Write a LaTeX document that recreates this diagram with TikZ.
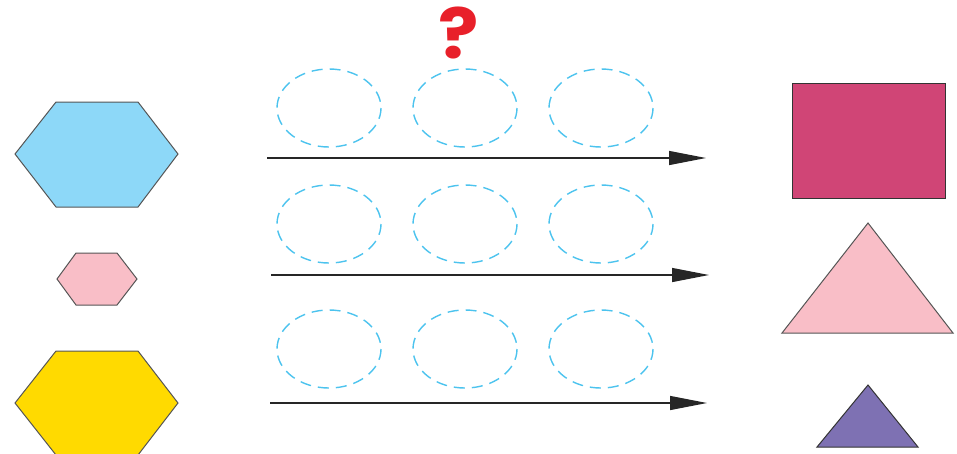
\documentclass[tikz,border=0pt]{standalone}
\usepackage{fontspec}
\newfontfamily\qfont{Poppins}
\usetikzlibrary{arrows.meta}
\definecolor{hexblue}{HTML}{8DD8F8}
\definecolor{hexpink}{HTML}{F9BEC7}
\definecolor{hexyellow}{HTML}{FFDA00}
\definecolor{rectred}{HTML}{D04576}
\definecolor{trpurple}{HTML}{7E71B3}
\definecolor{dashblue}{HTML}{4CC3EE}
\definecolor{qred}{HTML}{E8202A}
\definecolor{edge}{HTML}{555555}
\tikzset{
  shapeline/.style={draw=edge, line width=1pt, line join=miter},
  slot/.style={draw=dashblue, line width=1.4pt, dash pattern=on 11pt off 7pt},
  flow/.style={draw=black!85, line width=1.3pt, -{Triangle[length=37pt,width=14pt]}}
}
\begin{document}
\begin{tikzpicture}[x=1pt,y=-1pt]
\useasboundingbox (0,0) rectangle (957,453);
% left hexagons
\draw[shapeline, fill=hexblue] (15,154) -- (56,102) -- (138,102) -- (178,154) -- (138,207) -- (56,207) -- cycle;
\draw[shapeline, fill=hexpink] (57,279) -- (76,253) -- (117,253) -- (137,279) -- (117,305) -- (76,305) -- cycle;
\draw[shapeline, fill=hexyellow] (15,403) -- (56,351) -- (138,351) -- (178,403) -- (138,455) -- (56,455) -- cycle;
% right shapes
\draw[shapeline, draw=black!80, fill=rectred] (792,83) rectangle (945,198);
\draw[shapeline, fill=hexpink] (782,333) -- (868,223) -- (953,333) -- cycle;
\draw[shapeline, draw=black!80, fill=trpurple] (817,447) -- (868,385) -- (918,447) -- cycle;
% question mark
\node[scale=1.16, xscale=1.08] (q) at (459,33) {\qfont\bfseries\fontsize{60}{60}\selectfont\color{qred}?};
% dashed slots
\foreach \r/\y in {1/108, 2/224, 3/349}{
  \foreach \c/\x in {1/329, 2/465, 3/601}{
    \draw[slot] (\x,\y) ellipse [x radius=52, y radius=39];
  }
}
% arrows
\coordinate (a1s) at (267,158); \coordinate (a1e) at (706,158);
\coordinate (a2s) at (271,275); \coordinate (a2e) at (709,275);
\coordinate (a3s) at (270,403); \coordinate (a3e) at (707,403);
\draw[flow] (a1s) -- (a1e);
\draw[flow] (a2s) -- (a2e);
\draw[flow] (a3s) -- (a3e);
\end{tikzpicture}
\end{document}
